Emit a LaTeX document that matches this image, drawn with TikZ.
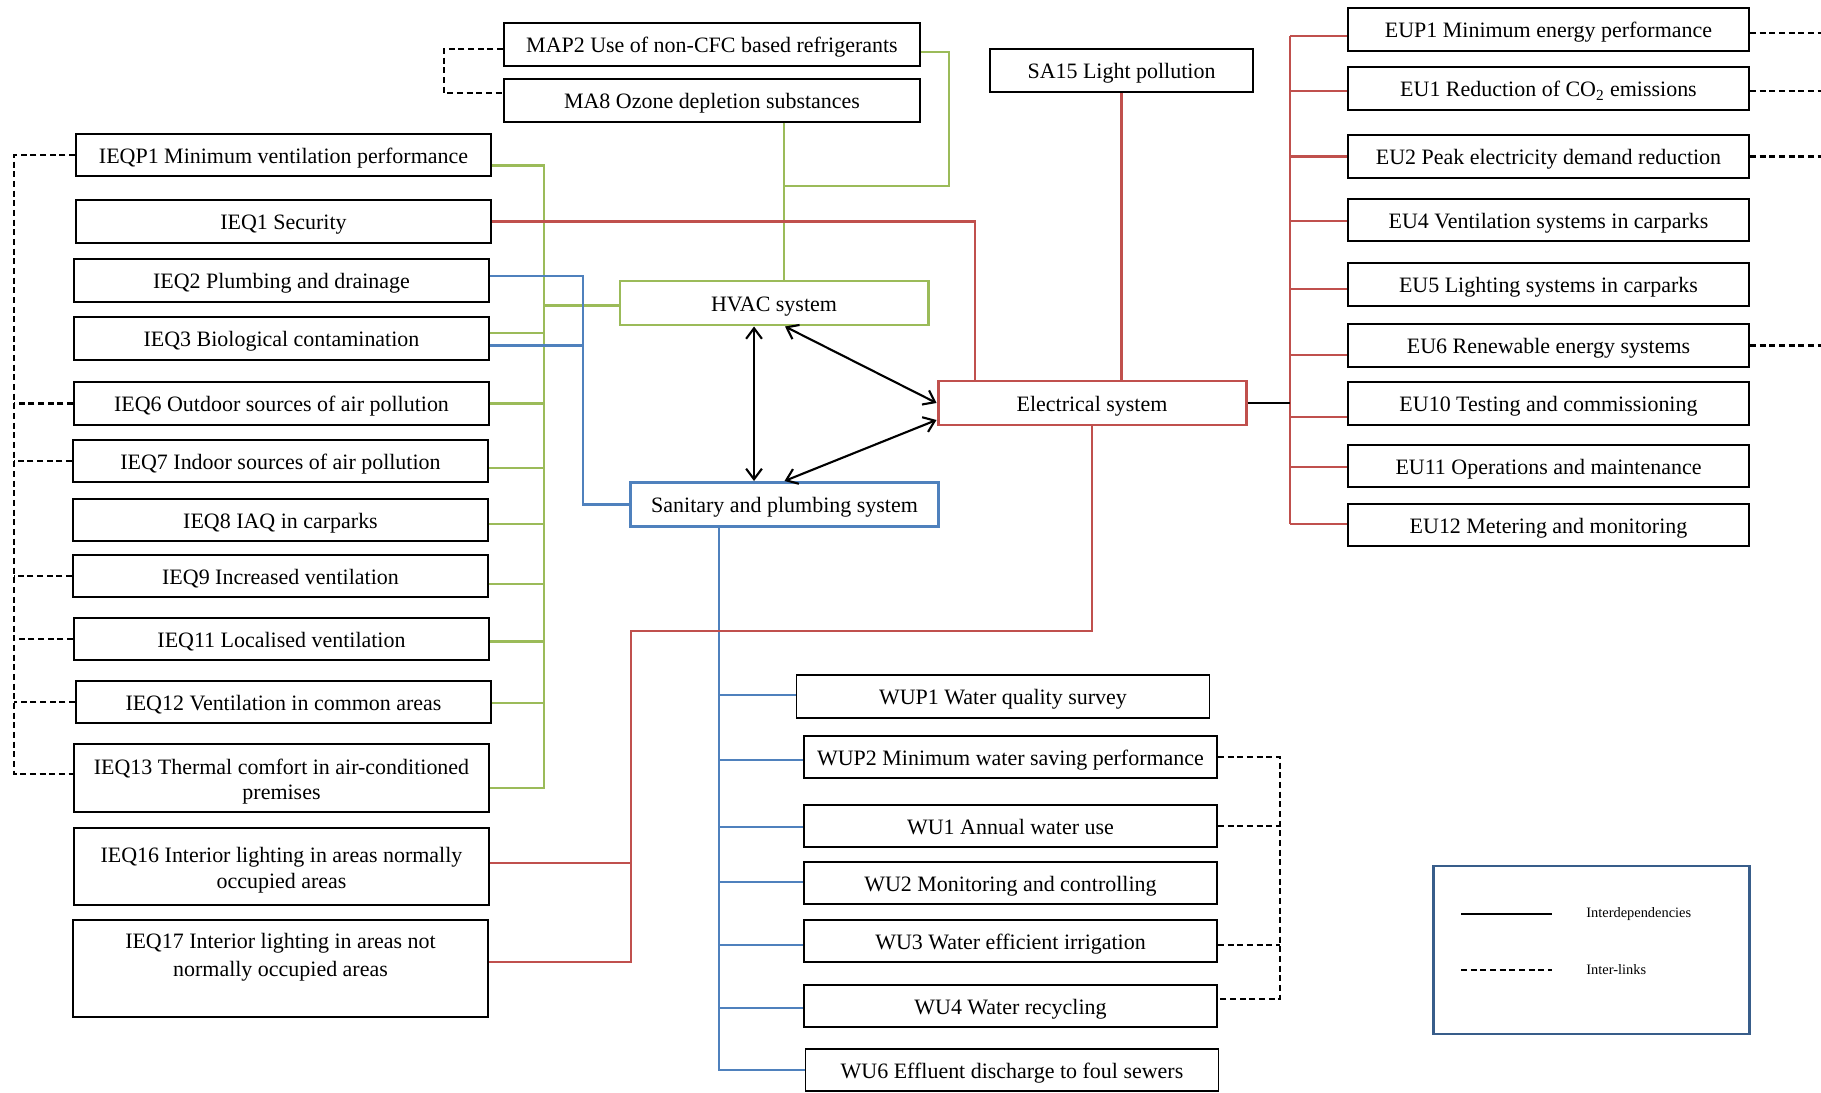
\documentclass[tikz,border=0pt]{standalone}
\usepackage{fontspec}
\setmainfont{Liberation Serif}
\usepackage{tikz}
\usetikzlibrary{arrows.meta}

\definecolor{hgreen}{HTML}{9BBB59}
\definecolor{ered}{HTML}{C0504D}
\definecolor{sblue}{HTML}{4F81BD}
\definecolor{legblue}{HTML}{385D8A}

\begin{document}
\begin{tikzpicture}[font=\fontsize{12.5}{14.5}\selectfont,
box/.style={draw, line width=1.1pt, inner sep=2pt, align=center, minimum height=0.85cm, text height=9.6pt, text depth=0pt},
mline/.style={text height={}, text depth={}},
ibox/.style={box, minimum width=8.3cm},
mbox/.style={box, minimum width=8.32cm},
ebox/.style={box, minimum width=8.02cm},
wbox/.style={box, minimum width=8.26cm},
sysbox/.style={draw, line width=1.7pt, minimum width=6.16cm, minimum height=0.88cm, text height=9.6pt, text depth=0pt},
gline/.style={hgreen, line width=1.3pt},
rline/.style={ered, line width=1.3pt},
bline/.style={sblue, line width=1.3pt},
dline/.style={black, line width=1.2pt, dash pattern=on 3.5pt off 2pt},
arr/.style={{Straight Barb[length=6pt,width=9pt]}-{Straight Barb[length=6pt,width=9pt]}, line width=1.2pt},
legtext/.style={anchor=west, inner sep=0pt, font=\fontsize{8.2}{9}\selectfont}]
\useasboundingbox (0,0) rectangle (36.42,21.84);
\node [mbox] (map2) at (14.24,20.95) {MAP2 Use of non-CFC based refrigerants};
\node [mbox] (ma8) at (14.24,19.83) {MA8 Ozone depletion substances};
\node [box, minimum width=5.26cm] (sa15) at (22.43,20.43) {SA15 Light pollution};
\node [ibox] (ieqp1) at (5.67,18.74) {IEQP1 Minimum ventilation performance};
\node [ibox] (ieq1) at (5.67,17.41) {IEQ1 Security};
\node [ibox] (ieq2) at (5.63,16.23) {IEQ2 Plumbing and drainage};
\node [ibox] (ieq3) at (5.63,15.07) {IEQ3 Biological contamination};
\node [ibox] (ieq6) at (5.63,13.77) {IEQ6 Outdoor sources of air pollution};
\node [ibox] (ieq7) at (5.61,12.62) {IEQ7 Indoor sources of air pollution};
\node [ibox] (ieq8) at (5.61,11.44) {IEQ8 IAQ in carparks};
\node [ibox] (ieq9) at (5.61,10.32) {IEQ9 Increased ventilation};
\node [ibox] (ieq11) at (5.63,9.06) {IEQ11 Localised ventilation};
\node [ibox] (ieq12) at (5.67,7.80) {IEQ12 Ventilation in common areas};
\node [ibox, mline, minimum height=1.36cm] (ieq13) at (5.63,6.28) {\rule{0pt}{13pt}IEQ13 Thermal comfort in air-conditioned\\premises};
\node [ibox, mline, minimum height=1.54cm] (ieq16) at (5.63,4.51) {\rule{0pt}{13pt}IEQ16 Interior lighting in areas normally\\occupied areas};
\node [ibox, mline, minimum height=1.94cm] (ieq17) at (5.61,2.47) {IEQ17 Interior lighting in areas not\\[1.4pt]normally occupied areas\rule[-15pt]{0pt}{1pt}};
\node [sysbox, draw=hgreen] (hvac) at (15.48,15.78) {HVAC system};
\node [sysbox, draw=sblue] (san) at (15.69,11.75) {Sanitary and plumbing system};
\node [sysbox, draw=ered] (elec) at (21.84,13.78) {Electrical system};
\node [ebox] (eup1) at (30.97,21.25) {EUP1 Minimum energy performance};
\node [ebox] (eu1) at (30.97,20.07) {EU1 Reduction of CO\textsubscript{2} emissions};
\node [ebox] (eu2) at (30.97,18.71) {EU2 Peak electricity demand reduction};
\node [ebox] (eu4) at (30.97,17.44) {EU4 Ventilation systems in carparks};
\node [ebox] (eu5) at (30.97,16.15) {EU5 Lighting systems in carparks};
\node [ebox] (eu6) at (30.97,14.93) {EU6 Renewable energy systems};
\node [ebox] (eu10) at (30.97,13.77) {EU10 Testing and commissioning};
\node [ebox] (eu11) at (30.97,12.52) {EU11 Operations and maintenance};
\node [ebox] (eu12) at (30.97,11.34) {EU12 Metering and monitoring};
\node [wbox] (wup1) at (20.06,7.91) {WUP1 Water quality survey};
\node [wbox] (wup2) at (20.21,6.70) {WUP2 Minimum water saving performance};
\node [wbox] (wu1) at (20.21,5.32) {WU1 Annual water use};
\node [wbox] (wu2) at (20.21,4.18) {WU2 Monitoring and controlling};
\node [wbox] (wu3) at (20.21,3.02) {WU3 Water efficient irrigation};
\node [wbox] (wu4) at (20.21,1.72) {WU4 Water recycling};
\node [wbox] (wu6) at (20.24,0.44) {WU6 Effluent discharge to foul sewers};
\coordinate (gbus) at (10.88,0);
\coordinate (gtop) at (15.68,18.12);
\coordinate (gcorner) at (18.98,18.12);
\coordinate (bbus) at (11.66,0);
\coordinate (wbus) at (14.38,0);
\coordinate (rcorner) at (19.50,0);
\coordinate (rturn) at (12.62,9.22);
\coordinate (ebus) at (25.80,0);
\coordinate (redge) at (36.42,0);
\coordinate (mbr) at (8.88,0);
\coordinate (dbus) at (0.28,0);
\coordinate (wbr) at (25.60,0);
\coordinate (avert) at (15.08,0);
% green
\draw [gline] ([yshift=-4.3pt]map2.east) -| (gcorner) to (gtop);
\draw [gline] (ma8.south -| gtop) to (hvac.north -| gtop);
\draw [gline] ([yshift=-6pt]ieqp1.east) to ([yshift=-6pt]ieqp1.east -| gbus) to ([yshift=-5.7pt]ieq13.east -| gbus) to ([yshift=-5.7pt]ieq13.east);
\draw [gline] ([yshift=-1.5pt]hvac.west) to ([yshift=-1.5pt]hvac.west -| gbus);
\draw [gline] ([yshift=3pt]ieq3.east) to ([yshift=3pt]ieq3.east -| gbus);
\foreach \n/\dy in {ieq6/0,ieq7/-4,ieq8/-2.3,ieq9/-4.5,ieq11/-1.5,ieq12/-0.5} \draw [gline] ([yshift=\dy pt]\n.east) to ([yshift=\dy pt]\n.east -| gbus);
% blue
\draw [bline] ([yshift=2.5pt]ieq2.east) to ([yshift=2.5pt]ieq2.east -| bbus) |- (san.west);
\draw [bline] ([yshift=-4pt]ieq3.east) to ([yshift=-4pt]ieq3.east -| bbus);
\draw [bline] (san.south -| wbus) to (wu6.west -| wbus) to (wu6.west);
\foreach \n/\dy in {wup1/1,wup2/-1.7,wu1/-0.5,wu2/0.5,wu3/-2.3,wu4/-1} \draw [bline] ([yshift=\dy pt]\n.west) to ([yshift=\dy pt]\n.west -| wbus);
% red
\draw [rline] (ieq1.east) -| (elec.north -| rcorner);
\draw [rline] (sa15.south) to (sa15.south |- elec.north);
\draw [rline] (elec.south) |- (rturn) |- ([yshift=3.5pt]ieq17.east);
\draw [rline] ([yshift=2pt]ieq16.east) to ([yshift=2pt]ieq16.east -| rturn);
\draw [rline] ([yshift=-3.7pt]eup1.west -| ebus) to ([yshift=0.6pt]eu12.west -| ebus);
\foreach \n/\dy in {eup1/-3.7,eu1/-1.4,eu2/0,eu4/-0.6,eu5/-2.6,eu6/-5.4,eu10/-7.7,eu11/-0.6,eu12/0.6} \draw [rline] ([yshift=\dy pt]\n.west -| ebus) to ([yshift=\dy pt]\n.west);
\draw [line width=1.3pt] (elec.east) to (elec.east -| ebus);
% inter-links
\draw [dline] ([yshift=-2.5pt]map2.west) to ([yshift=-2.5pt]map2.west -| mbr) |- ([yshift=4.3pt]ma8.west);
\draw [dline] (ieqp1.west) to (ieqp1.west -| dbus) to ([yshift=2.3pt]ieq13.west -| dbus) to ([yshift=2.3pt]ieq13.west);
\foreach \n in {ieq6,ieq7,ieq9,ieq11,ieq12} \draw [dline] (\n.west) to (\n.west -| dbus);
\foreach \n/\dy in {eup1/-2,eu1/-1.4,eu2/0,eu6/0} \draw [dline] ([yshift=\dy pt]\n.east) to ([yshift=\dy pt]\n.east -| redge);
\draw [dline] (wup2.east) to (wup2.east -| wbr) to ([yshift=4pt]wu4.east -| wbr) to ([yshift=4pt]wu4.east);
\foreach \n/\dy in {wu1/0,wu3/-2.3} \draw [dline] ([yshift=\dy pt]\n.east) to ([yshift=\dy pt]\n.east -| wbr);
% interdependencies
\draw [arr] (hvac.south -| avert) to (san.north -| avert);
\draw [arr] ([xshift=0.22cm]hvac.south) to (elec.west);
\draw [arr] (san.north) to ([yshift=-0.34cm]elec.west);
%legend
\node [draw=legblue, line width=1.7pt, minimum width=6.32cm, minimum height=3.36cm] (legend) at (31.82,2.84) {};
\coordinate (lsa) at (29.22,3.56);
\coordinate (lsb) at (31.04,3.56);
\coordinate (lda) at (29.22,2.44);
\coordinate (ldb) at (31.04,2.44);
\draw [line width=1.2pt] (lsa) to (lsb);
\draw [dline] (lda) to (ldb);
\node [legtext] (lint) at (31.72,3.56) {Interdependencies};
\node [legtext] (llink) at (31.72,2.44) {Inter-links};
\end{tikzpicture}
\end{document}
